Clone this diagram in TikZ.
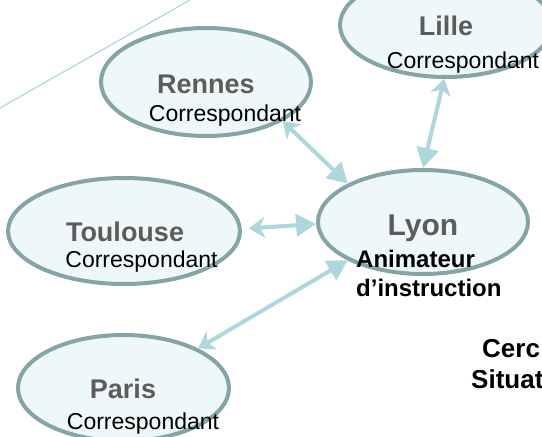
\documentclass[tikz,border=0pt]{standalone}
\usepackage{fontspec}
\setmainfont{Liberation Sans}
\usetikzlibrary{shapes.geometric,arrows.meta}
\definecolor{ringline}{HTML}{84A4A6}
\definecolor{ringfill}{HTML}{EFF8F8}
\definecolor{linkblue}{HTML}{AED7DD}
\definecolor{cityname}{HTML}{5C5C5C}
\begin{document}
\begin{tikzpicture}[x=1pt,y=-1pt,
  city/.style={ellipse,draw=ringline,fill=ringfill,line width=4pt,inner sep=0pt},
  cityname/.style={font=\fontsize{27}{30}\selectfont\bfseries,text=cityname,anchor=base,inner sep=0pt},
  role/.style={font=\fontsize{23}{26}\selectfont,text=black,anchor=base,inner sep=0pt},
  rolebold/.style={font=\fontsize{24}{27}\selectfont\bfseries,text=black,anchor=base west,inner sep=0pt},
  link/.style={draw=linkblue,line width=4pt,
    {Stealth[length=16pt,width=21pt,inset=5pt]}-{Triangle[length=20pt,width=22pt]}}]
\useasboundingbox (0,0) rectangle (542,437);
\clip (0,0) rectangle (542,437);

% thin decorative stroke in the upper left corner
\draw[linkblue,line width=1.2pt] (0,108) -- (190,0);

% the five towns
\node[city,minimum width=210pt,minimum height=108pt] (rennes) at (206,82) {};
\node[city,minimum width=212pt,minimum height=104pt] (lille) at (446,25) {};
\node[city,minimum width=232pt,minimum height=106pt] (toulouse) at (124,231) {};
\node[city,minimum width=211pt,minimum height=106pt] (paris) at (123.5,388) {};
\node[city,minimum width=210pt,minimum height=104pt] (lyon) at (423,222) {};

% town names and roles
\node[cityname] (rennesname) at (206,93) {Rennes};
\node[role] (rennesrole) at (225,121) {Correspondant};
\node[cityname] (lillename) at (446,35) {Lille};
\node[role] (lillerole) at (463,68) {Correspondant};
\node[cityname] (toulousename) at (125,241) {Toulouse};
\node[role] (toulouserole) at (141.5,267) {Correspondant};
\node[cityname] (parisname) at (123,398) {Paris};
\node[role] (parisrole) at (143,429) {Correspondant};
\node[cityname,font=\fontsize{30}{33}\selectfont\bfseries] (lyonname) at (423,235) {Lyon};
\node[rolebold] (lyonrole1) at (356,267) {Animateur};
\node[rolebold] (lyonrole2) at (356,296) {d’instruction};

% right-hand caption
\node[rolebold,font=\fontsize{26}{29}\selectfont\bfseries] (caption1) at (482,357) {Cerc};
\node[rolebold,font=\fontsize{26}{29}\selectfont\bfseries] (caption2) at (471,388) {Situat};

% links to the coordinating town
\draw[link] (rennes.-27) -- (lyon.153.4);
\draw[link] (lille.-92) -- (lyon.90);
\draw[link,shorten <=7pt] (toulouse.1) -- (lyon.181);
\draw[link] (paris.28) -- (lyon.207.5);
\end{tikzpicture}
\end{document}
